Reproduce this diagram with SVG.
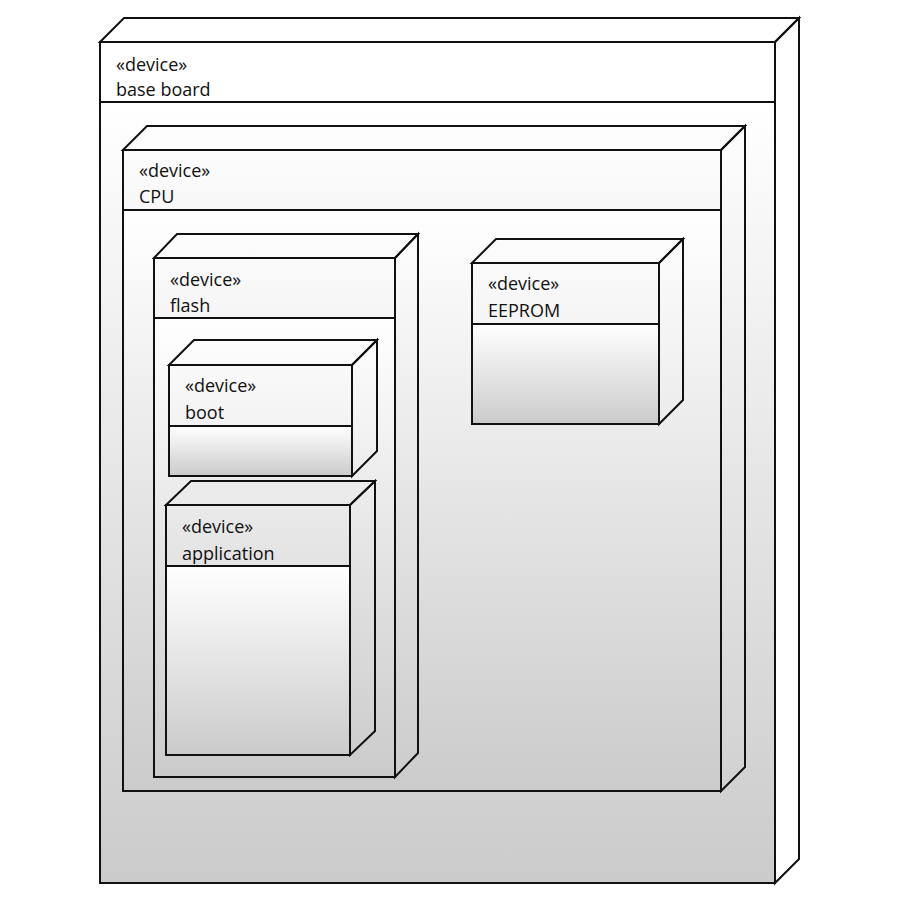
<svg xmlns="http://www.w3.org/2000/svg" width="900" height="900" viewBox="0 0 900 900">
<defs>
<linearGradient id="body" x1="0" y1="0" x2="0" y2="1">
<stop offset="0" stop-color="#ffffff"/>
<stop offset="1" stop-color="#cbcbcb"/>
</linearGradient>
<style>
.face{fill:none;stroke:#111;stroke-width:2;stroke-linejoin:miter}
.body{fill:url(#body);stroke:none}
.edge{fill:none;stroke:#111;stroke-width:2}
.t{font-family:"Open Sans","Liberation Sans",sans-serif;font-size:18px;fill:#111}
</style>
</defs>
<rect width="900" height="900" fill="#fff"/>
<g id="base-board">
<rect class="body" x="100" y="102" width="675" height="781"/>
<polygon class="face" points="100,42 124,18 799,18 775,42"/>
<polygon class="face" points="775,42 799,18 799,859 775,883"/>
<rect class="edge" x="100" y="42" width="675" height="841"/>
<line class="edge" x1="100" y1="102" x2="775" y2="102"/>
<text class="t" x="116" y="71">«device»</text>
<text class="t" x="116" y="96">base board</text>
</g>
<g id="cpu">
<rect class="body" x="123" y="210" width="598" height="581"/>
<polygon class="face" points="123,150 147,126 745,126 721,150"/>
<polygon class="face" points="721,150 745,126 745,767 721,791"/>
<rect class="edge" x="123" y="150" width="598" height="641"/>
<line class="edge" x1="123" y1="210" x2="721" y2="210"/>
<text class="t" x="139" y="177">«device»</text>
<text class="t" x="139" y="203">CPU</text>
</g>
<g id="flash">
<rect class="body" x="154" y="318" width="241" height="459"/>
<polygon class="face" points="154,258 177,234 418,234 395,258"/>
<polygon class="face" points="395,258 418,234 418,753 395,777"/>
<rect class="edge" x="154" y="258" width="241" height="519"/>
<line class="edge" x1="154" y1="318" x2="395" y2="318"/>
<text class="t" x="170" y="286">«device»</text>
<text class="t" x="170" y="312">flash</text>
</g>
<g id="boot">
<rect class="body" x="169" y="426" width="183" height="50"/>
<polygon class="face" points="169,365 194,340 377,340 352,365"/>
<polygon class="face" points="352,365 377,340 377,451 352,476"/>
<rect class="edge" x="169" y="365" width="183" height="111"/>
<line class="edge" x1="169" y1="426" x2="352" y2="426"/>
<text class="t" x="185" y="392">«device»</text>
<text class="t" x="185" y="419">boot</text>
</g>
<g id="application">
<rect class="body" x="166" y="566" width="184" height="189"/>
<polygon class="face" points="166,505 191,481 375,481 350,505"/>
<polygon class="face" points="350,505 375,481 375,731 350,755"/>
<rect class="edge" x="166" y="505" width="184" height="250"/>
<line class="edge" x1="166" y1="566" x2="350" y2="566"/>
<text class="t" x="182" y="533">«device»</text>
<text class="t" x="182" y="560">application</text>
</g>
<g id="eeprom">
<rect class="body" x="472" y="324" width="187" height="100"/>
<polygon class="face" points="472,263 496,239 683,239 659,263"/>
<polygon class="face" points="659,263 683,239 683,400 659,424"/>
<rect class="edge" x="472" y="263" width="187" height="161"/>
<line class="edge" x1="472" y1="324" x2="659" y2="324"/>
<text class="t" x="488" y="290">«device»</text>
<text class="t" x="488" y="317">EEPROM</text>
</g>
<g id="connectors"/>
</svg>
